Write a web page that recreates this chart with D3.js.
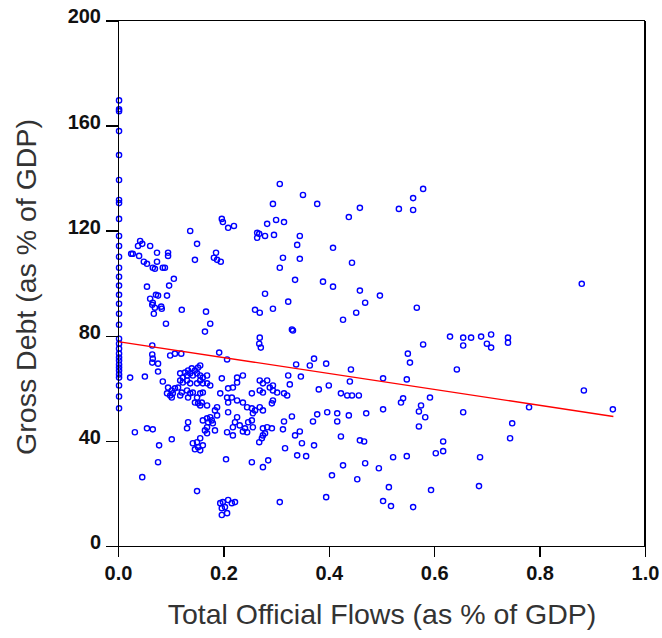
<!DOCTYPE html>
<html>
<head>
<meta charset="utf-8">
<title>Gross Debt vs Total Official Flows - D3.js</title>
<script src="https://d3js.org/d3.v7.min.js"></script>
<style>
body { margin: 0; background: #fff; }
.axis path, .axis line { stroke: #000; stroke-width: 1.5px; shape-rendering: crispEdges; }
.axis text { font-family: "Liberation Sans", Arial, sans-serif; font-weight: bold; font-size: 20px; fill: #111; }
.title { font-family: "Liberation Sans", Arial, sans-serif; font-size: 28.5px; fill: #333; }
.dot { fill: none; stroke: #0000ff; stroke-width: 1.4px; }
.fit { fill: none; stroke: #ff0000; stroke-width: 1.4px; }
.frame { stroke: #000; stroke-width: 1.5px; shape-rendering: crispEdges; }
</style>
</head>
<body>
<svg width="662" height="638"></svg>
<script>
const xTicks = [0, 0.2, 0.4, 0.6, 0.8, 1.0];
const yTicks = [0, 40, 80, 120, 160, 200];

// fitted line endpoints (flows, debt)
const fitX = [0, 0.94];
const fitY = [77.8, 49.3];

// [total official flows, gross debt]
const points = [
[0.002,169.6],[0.002,166.2],[0.002,165.5],[0.002,157.9],[0.002,148.8],[0.002,139.3],[0.002,131.7],[0.002,130.5],
[0.002,124.5],[0.002,118.0],[0.002,114.2],[0.002,110.1],[0.002,105.9],[0.002,102.5],[0.002,99.1],[0.002,95.6],
[0.002,92.2],[0.002,88.4],[0.002,84.2],[0.002,78.9],[0.002,77.0],[0.002,75.1],[0.002,73.2],[0.002,71.7],
[0.002,70.6],[0.002,69.1],[0.002,67.9],[0.002,66.8],[0.002,65.3],[0.002,64.1],[0.002,61.1],[0.002,56.9],[0.002,52.4],
[0.294,130.2],[0.197,124.5],[0.199,123.3],[0.209,121.1],[0.220,121.8],[0.137,119.9],[0.283,122.6],[0.300,124.1],
[0.264,119.2],[0.268,118.8],[0.279,118.0],[0.264,117.3],[0.296,118.4],[0.042,116.1],[0.046,115.0],[0.038,114.2],
[0.061,114.2],[0.150,115.0],[0.025,111.2],[0.028,111.2],[0.040,110.4],[0.074,111.6],[0.095,111.6],[0.095,110.4],
[0.186,111.6],[0.182,109.7],[0.188,108.9],[0.195,108.2],[0.146,108.9],[0.049,108.2],[0.055,107.4],[0.066,105.9],
[0.070,105.5],[0.074,108.2],[0.085,105.9],[0.089,105.9],[0.106,101.7],[0.097,99.1],[0.055,98.7],[0.279,96.0],
[0.093,95.3],[0.072,95.6],[0.076,95.3],[0.061,94.1],[0.066,92.6],[0.065,91.8],[0.070,90.7],[0.082,91.1],
[0.083,90.3],[0.068,88.4],[0.121,89.9],[0.167,89.2],[0.260,89.9],[0.269,88.8],[0.294,90.3],[0.091,84.6],
[0.175,84.6],[0.165,81.6],[0.269,79.3],[0.268,77.0],[0.271,75.5],[0.065,76.3],[0.065,72.9],[0.066,71.3],
[0.099,72.5],[0.108,73.2],[0.120,73.2],[0.192,73.6],[0.207,71.0],
[0.307,137.8],[0.351,133.6],[0.378,130.2],[0.459,128.7],[0.438,125.2],[0.579,135.9],[0.560,132.4],[0.560,127.9],
[0.533,128.3],[0.315,123.3],[0.345,118.0],[0.340,114.6],[0.408,113.5],[0.313,109.7],[0.345,109.3],[0.444,107.8],
[0.307,105.9],[0.336,101.3],[0.389,100.6],[0.408,98.7],[0.459,97.2],[0.469,92.6],[0.497,95.3],[0.323,93.0],
[0.567,90.7],[0.452,88.8],[0.427,86.1],[0.330,82.4],
[0.065,69.8],[0.076,69.4],[0.076,66.4],[0.023,64.1],[0.051,64.5],[0.085,62.6],[0.118,65.7],[0.127,66.0],
[0.133,66.8],[0.140,67.6],[0.146,66.8],[0.152,67.9],[0.156,68.7],[0.123,64.1],[0.131,64.9],[0.137,65.7],
[0.142,64.9],[0.150,65.7],[0.156,64.9],[0.161,64.1],[0.169,64.9],[0.118,63.0],[0.123,62.2],[0.131,63.0],
[0.137,61.9],[0.150,61.9],[0.156,63.0],[0.161,61.9],[0.169,61.9],[0.175,61.1],[0.095,60.3],[0.102,59.2],
[0.093,58.1],[0.099,57.3],[0.104,58.1],[0.108,60.0],[0.114,60.3],[0.121,58.4],[0.118,57.3],[0.102,56.5],
[0.131,59.2],[0.137,58.1],[0.133,56.5],[0.142,58.4],[0.150,56.5],[0.156,58.1],[0.161,58.4],[0.146,54.6],
[0.152,54.3],[0.159,54.6],[0.169,53.5],[0.156,53.5],[0.188,52.8],[0.184,51.6],[0.194,58.1],[0.197,63.8],
[0.209,60.0],[0.218,60.3],[0.226,64.1],[0.237,64.9],[0.226,62.2],[0.207,56.5],[0.209,54.6],[0.216,56.5],
[0.226,55.4],[0.209,50.9],[0.237,54.6],[0.245,52.8],[0.254,52.4],[0.256,50.5],[0.260,51.6],[0.254,58.1],
[0.269,59.2],[0.275,58.4],[0.288,60.3],[0.294,59.2],[0.302,58.4],[0.269,63.0],[0.275,61.9],[0.283,63.0],
[0.294,61.1],[0.294,55.4],[0.292,54.3],[0.269,52.8],[0.275,51.6],[0.169,48.6],[0.175,49.0],[0.178,47.8],
[0.161,47.8],[0.180,46.7],[0.188,49.7],[0.171,47.1],[0.226,49.0],[0.222,47.1],[0.231,45.9],[0.218,45.2],
[0.247,47.1],[0.254,47.8],[0.256,45.2],[0.245,43.3],[0.241,44.8],[0.237,43.6],[0.133,47.1],[0.131,44.8],
[0.169,45.2],[0.165,44.0],[0.184,44.0],[0.169,42.9],[0.207,43.3],[0.218,42.1],[0.032,43.3],[0.055,44.8],
[0.066,44.4],[0.102,40.6],[0.078,38.3],[0.156,41.0],[0.150,39.5],[0.142,39.1],[0.152,37.6],[0.161,38.3],
[0.146,36.8],[0.156,36.4],[0.076,31.9],[0.046,26.2],[0.205,33.0],[0.150,20.9],[0.194,16.3],[0.199,16.7],
[0.209,17.5],[0.222,16.7],[0.197,14.4],[0.207,12.5],[0.197,11.8],[0.203,14.8],[0.216,16.3],[0.275,44.8],
[0.283,45.2],[0.292,44.8],[0.279,42.9],[0.273,41.0],[0.268,39.5],[0.275,42.1],[0.254,31.9],[0.285,32.6],[0.275,30.0],
[0.332,82.0],[0.630,79.7],[0.579,76.7],[0.550,73.2],[0.554,69.8],[0.372,71.3],[0.364,68.7],[0.338,69.1],
[0.395,69.4],[0.442,67.2],[0.643,67.2],[0.323,64.9],[0.347,64.5],[0.326,61.5],[0.440,62.6],[0.503,63.8],
[0.548,63.4],[0.315,58.1],[0.321,57.3],[0.381,59.6],[0.400,61.1],[0.423,58.1],[0.435,57.3],[0.444,57.3],
[0.457,57.3],[0.592,56.5],[0.541,56.2],[0.537,54.6],[0.575,53.5],[0.571,51.2],[0.583,49.0],[0.571,45.5],
[0.503,52.0],[0.471,50.5],[0.438,49.7],[0.416,50.5],[0.397,50.9],[0.416,47.4],[0.378,50.1],[0.370,47.4],
[0.330,49.3],[0.315,47.4],[0.313,44.4],[0.345,43.6],[0.336,42.1],[0.349,39.1],[0.372,38.3],[0.317,37.2],
[0.340,34.5],[0.357,34.2],[0.423,41.7],[0.459,40.2],[0.467,39.8],[0.617,39.8],[0.617,36.1],[0.603,35.3],
[0.427,30.7],[0.469,31.5],[0.495,29.6],[0.522,33.8],[0.548,34.2],[0.406,26.9],[0.454,25.4],[0.514,22.4],
[0.594,21.3],[0.395,18.6],[0.307,16.7],[0.503,17.1],[0.518,15.2],[0.560,14.8],
[0.655,79.3],[0.670,79.3],[0.689,79.7],[0.708,80.5],[0.740,79.3],[0.740,77.4],[0.700,77.0],[0.708,75.5],
[0.655,76.3],[0.884,59.2],[0.655,50.9],[0.780,52.8],[0.939,52.0],[0.748,46.7],[0.744,41.0],[0.687,33.8],
[0.685,22.8],[0.880,99.8]
];

const svg = d3.select("svg");

const x = d3.scaleLinear().domain([0, 1]).range([118, 645]);
const y = d3.scaleLinear().domain([0, 200]).range([546, 20.5]);

// points first, so the axis line sits on top of the ones at zero
svg.append("g")
  .selectAll("circle")
  .data(points)
  .enter()
  .append("circle")
  .attr("class", "dot")
  .attr("cx", d => x(d[0]))
  .attr("cy", d => y(d[1]))
  .attr("r", 2.6);

// fitted line
svg.append("path")
  .datum(fitX.map((v, i) => [v, fitY[i]]))
  .attr("class", "fit")
  .attr("d", d3.line().x(d => x(d[0])).y(d => y(d[1])));

// axes
const xAxis = d3.axisBottom(x)
  .tickValues(xTicks)
  .tickFormat(d3.format(".1f"))
  .tickSize(11)
  .tickSizeOuter(0)
  .tickPadding(9);

const yAxis = d3.axisLeft(y)
  .tickValues(yTicks)
  .tickSize(12)
  .tickSizeOuter(0)
  .tickPadding(5);

svg.append("g")
  .attr("class", "axis")
  .attr("transform", `translate(0,${y(0)})`)
  .call(xAxis);

svg.append("g")
  .attr("class", "axis")
  .attr("transform", `translate(${x(0)},0)`)
  .call(yAxis)
  .selectAll("text")
  .attr("dy", "0.12em");

// box top and right
svg.append("line").attr("class", "frame")
  .attr("x1", x(0)).attr("x2", x(1))
  .attr("y1", y(200)).attr("y2", y(200));
svg.append("line").attr("class", "frame")
  .attr("x1", x(1)).attr("x2", x(1))
  .attr("y1", y(200)).attr("y2", y(0));

// titles
svg.append("text")
  .attr("class", "title")
  .attr("x", 382)
  .attr("y", 624)
  .attr("text-anchor", "middle")
  .text("Total Official Flows (as % of GDP)");

svg.append("text")
  .attr("class", "title")
  .attr("transform", "translate(36,287) rotate(-90)")
  .attr("text-anchor", "middle")
  .text("Gross Debt (as % of GDP)");
</script>
</body>
</html>
